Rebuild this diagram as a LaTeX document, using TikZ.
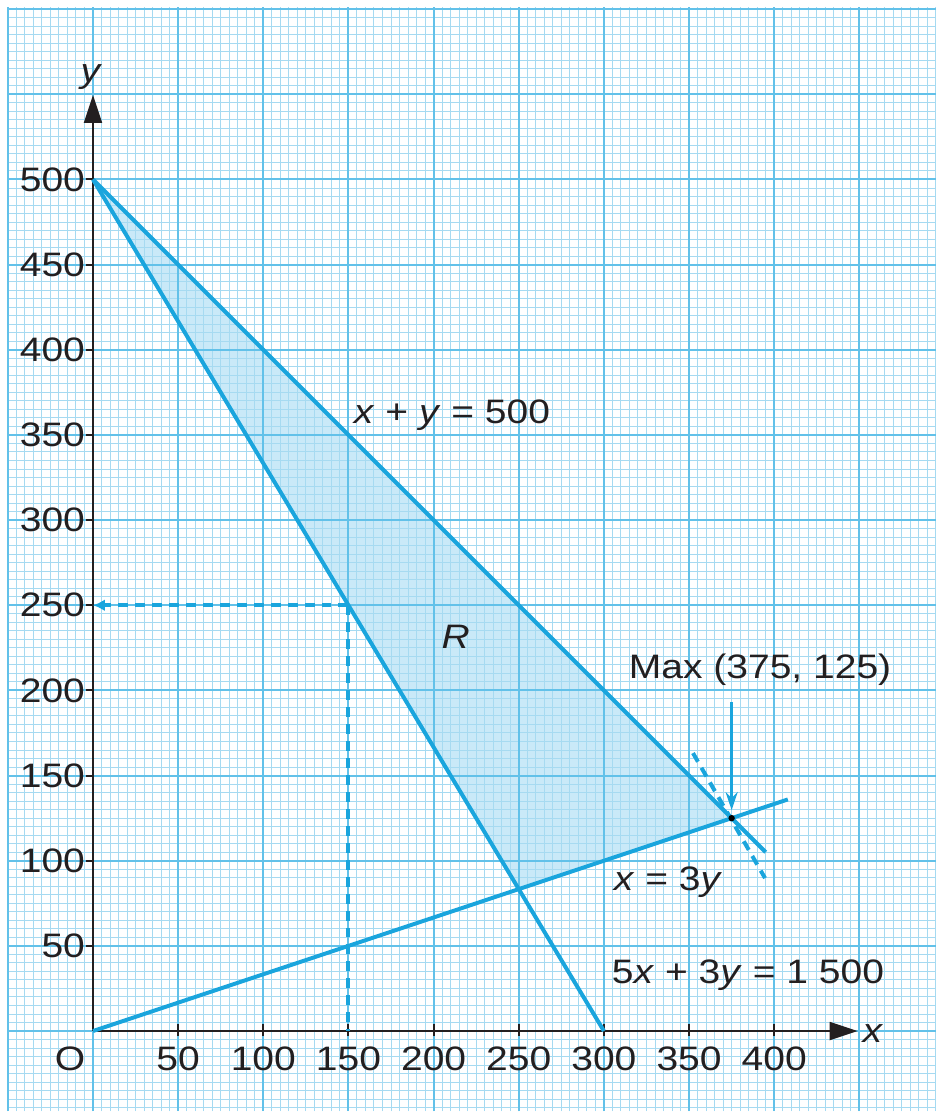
\documentclass[tikz,border=0pt]{standalone}
\usepackage{fontspec}
\setmainfont{Liberation Sans}[FakeStretch=1.15]
\usetikzlibrary{arrows.meta}
\definecolor{gridminor}{HTML}{A6DAF1}
\definecolor{gridmajor}{HTML}{62C1E9}
\definecolor{lineblue}{HTML}{1AA5DD}
\definecolor{regionfill}{HTML}{C9E9F8}
\definecolor{axisblack}{HTML}{231F20}
\tikzset{
  minorgrid/.style={gridminor, line width=0.5pt},
  majorgrid/.style={gridmajor, line width=1pt},
  constraint/.style={lineblue, line width=2pt},
  dashline/.style={lineblue, line width=2pt, dash pattern=on 5pt off 3.5pt},
  axisline/.style={axisblack, line width=1pt},
  ticklbl/.style={text=axisblack, inner sep=0pt},
  lbl/.style={text=axisblack, inner sep=0pt}
}
\begin{document}
\begin{tikzpicture}[x=0.03cm, y=0.03cm, font=\fontsize{17}{20}\selectfont]
\useasboundingbox (-54.6,-49.3) rectangle (495.0,605.4);
\fill[white] (-54.6,-49.3) rectangle (495.0,605.4);
% key points
\coordinate (O) at (0,0);
\coordinate (A) at (0,500);
\coordinate (B) at (375,125);
\coordinate (C) at (250,83.333);
\coordinate (P) at (300,0);
\coordinate (E) at (395,105);
\coordinate (F) at (408,136);
\coordinate (D) at (150,250);
\coordinate (Dy) at (0,250);
\coordinate (Dx) at (150,0);
\coordinate (G1) at (352.3,163.2);
\coordinate (G2) at (394.6,89.8);
\coordinate (Mtop) at (375,193);
\coordinate (Xend) at (449,0);
\coordinate (Yend) at (0,549.6);
% feasible region
\fill[regionfill] (A) -- (B) -- (C) -- cycle;
% graph paper
\draw[minorgrid] (-50,-47) grid[step=5] (495,601);
\draw[majorgrid] (-50,-47) grid[step=50] (495,601);
% axes
\draw[axisline, -{Triangle[length=14pt,width=9pt]}] (O) -- (Xend);
\draw[axisline, -{Triangle[length=14pt,width=9pt]}] (O) -- (Yend);
\foreach \v in {50,100,...,400} {
  \draw[axisline] (\v,-3) -- (\v,4);
  \node[ticklbl, anchor=base] (xt\v) at (\v,-23) {\v};
}
\foreach \v in {50,100,...,500} {
  \draw[axisline] (-4,\v) -- (0,\v);
  \node[ticklbl, anchor=east] (yt\v) at (-4.5,\v) {\v};
}
\node[lbl, anchor=base] (Olbl) at (-13.5,-23) {O};
\node[lbl, anchor=base] (xlbl) at (458,-7) {\textit{x}};
\node[lbl, anchor=base] (ylbl) at (-1,557) {\textit{y}};
% constraint lines
\draw[constraint] (A) -- (P);
\draw[constraint] (A) -- (E);
\draw[constraint] (O) -- (F);
% dashed lines
\draw[dashline, -{Latex[length=6pt,width=6pt]}] (D) -- (Dy);
\draw[dashline] (D) -- (Dx);
\draw[dashline] (G1) -- (G2);
% max arrow and point
\draw[lineblue, line width=1.3pt, shorten >=4pt, -{Stealth[length=9pt,width=6pt]}] (Mtop) -- (B);
\fill[black] (B) circle (1.6pt);
% labels
\node[lbl] (lxy) at (210.8,361.7) {\textit{x} + \textit{y} = 500};
\node[lbl] (lR) at (213,231.4) {\textit{R}};
\node[lbl] (lmax) at (391.7,212) {Max (375, 125)};
\node[lbl] (l3y) at (337.6,87.5) {\textit{x} = 3\textit{y}};
\node[lbl] (l5x) at (384.6,32.9) {5\textit{x} + 3\textit{y} = 1 500};
\end{tikzpicture}
\end{document}
